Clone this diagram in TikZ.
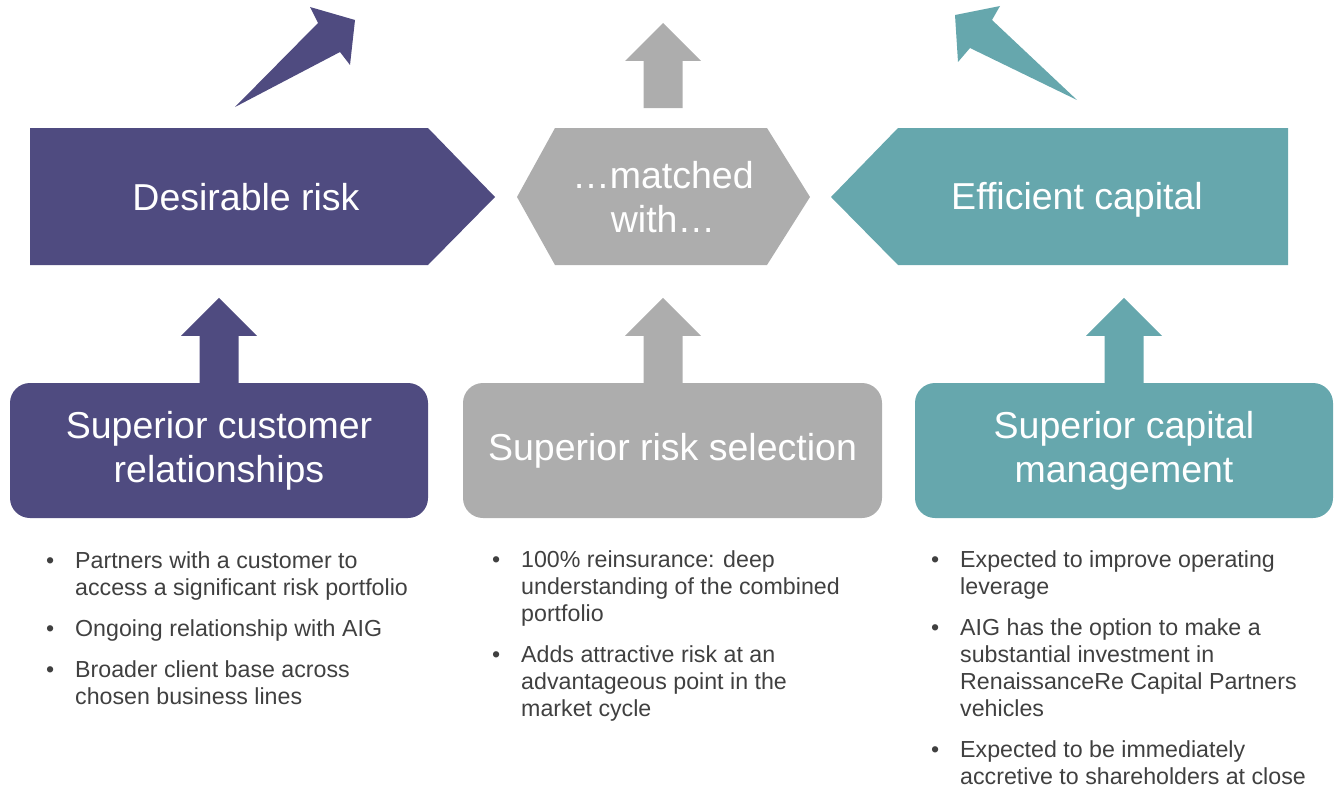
\documentclass[tikz,border=0pt]{standalone}
\usepackage{fontspec}
\setmainfont{Liberation Sans}
\usepackage{xcolor}
\usepackage{tikz}
\usetikzlibrary{positioning}

\definecolor{riskPurple}{RGB}{79,75,128}
\definecolor{matchGray}{RGB}{173,173,173}
\definecolor{capTeal}{RGB}{102,167,173}
\definecolor{pointText}{RGB}{64,64,64}

\newcommand{\bmark}{\textbullet}

\tikzset{
  bigtext/.style={text=white, inner sep=0pt, align=center,
    font=\fontsize{37.5}{44}\selectfont},
  pillarbox/.style={bigtext, rounded corners=20pt,
    minimum width=418pt, minimum height=135pt},
  bullets/.style={anchor=north west, inner sep=0pt,
    text=pointText, font=\fontsize{23.2}{27}\selectfont},
  uparr/.pic={\fill (-19.5,0) -- (-19.5,-47) -- (-38,-47) -- (0,-85)
    -- (38,-47) -- (19.5,-47) -- (19.5,0) -- cycle;}
}

\begin{document}
\begin{tikzpicture}[x=1pt, y=-1pt]
  \useasboundingbox (0,0) rectangle (1336,792);

  \fill[riskPurple] (30,128) -- (428,128) -- (495,197) -- (428,265) -- (30,265) -- cycle;
  \node[bigtext] (desirable) at (246,197) {Desirable risk};

  \fill[matchGray] (517,197) -- (555,128) -- (767,128) -- (810,197) -- (767,265) -- (555,265) -- cycle;
  \node[bigtext] (matched) at (663,197) {…matched\\with…};

  \fill[capTeal] (831,197) -- (898,128) -- (1288,128) -- (1288,265) -- (898,265) -- cycle;
  \node[bigtext] (efficient) at (1077,200) {Efficient capital};

  \fill[riskPurple] (235,107) -- (318,23) -- (310,7) -- (355,20) -- (350,65) -- (340,52) -- cycle;
  \fill[capTeal] (1077,100) -- (992,20) -- (1000,6) -- (955,15) -- (958,62) -- (970,48) -- cycle;
  \pic[fill=matchGray] at (matched |- 0,108) {uparr};

  \node[pillarbox, fill=riskPurple] (customer) at (219,450.5) {Superior customer\\relationships};
  \node[pillarbox, fill=matchGray, minimum width=419pt] (selection) at (672.5,450.5) {Superior risk selection};
  \node[pillarbox, fill=capTeal] (capital) at (1124,450.5) {Superior capital\\management};

  \pic[fill=riskPurple] at (customer.north) {uparr};
  \pic[fill=matchGray] at (matched |- selection.north) {uparr};
  \pic[fill=capTeal] at (capital.north) {uparr};

  \node[bullets] (customerPoints) at (46,549) {\begin{tabular}{@{}p{29pt}@{}l@{}}
    \bmark & Partners with a customer to\\
           & access a significant risk portfolio\\[14pt]
    \bmark & Ongoing relationship with AIG\\[14pt]
    \bmark & Broader client base across\\
           & chosen business lines
  \end{tabular}};
  \node[bullets] (selectionPoints) at (492,548) {\begin{tabular}{@{}p{29pt}@{}l@{}}
    \bmark & 100\% reinsurance: deep\\
           & understanding of the combined\\
           & portfolio\\[14pt]
    \bmark & Adds attractive risk at an\\
           & advantageous point in the\\
           & market cycle
  \end{tabular}};
  \node[bullets] (capitalPoints) at (931,548) {\begin{tabular}{@{}p{29pt}@{}l@{}}
    \bmark & Expected to improve operating\\
           & leverage\\[14pt]
    \bmark & AIG has the option to make a\\
           & substantial investment in\\
           & RenaissanceRe Capital Partners\\
           & vehicles\\[14pt]
    \bmark & Expected to be immediately\\
           & accretive to shareholders at close
  \end{tabular}};
\end{tikzpicture}
\end{document}
